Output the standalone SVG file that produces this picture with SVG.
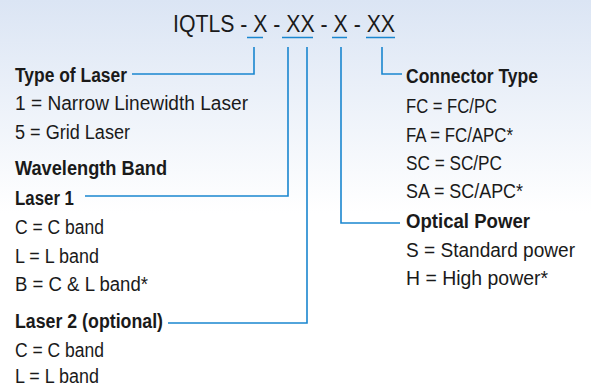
<svg xmlns="http://www.w3.org/2000/svg" width="591" height="387" viewBox="0 0 591 387">
<defs>
<linearGradient id="bg" x1="0" y1="0" x2="0" y2="387" gradientUnits="userSpaceOnUse">
<stop offset="0" stop-color="#dbe5f4"/>
<stop offset="0.55" stop-color="#ffffff"/>
<stop offset="1" stop-color="#ffffff"/>
</linearGradient>
<style>
text{font-family:"Liberation Sans Narrow","Liberation Sans",Arial,sans-serif;fill:#1a1a1a;font-size:19.5px}
.b{font-weight:bold}
.t{font-size:24px}
.c{fill:none;stroke:#1a86cf;stroke-width:1.6}
</style>
</defs>
<rect width="591" height="387" fill="url(#bg)"/>
<g id="title">
<text class="t" x="173" y="32" textLength="222" lengthAdjust="spacingAndGlyphs">IQTLS - X - XX - X - XX</text>
<path class="c" d="M247,37.5H263M282,37.5H313M332,37.5H347M366,37.5H395"/>
</g>
<g id="connectors">
<path class="c" d="M254,47V74H132"/>
<path class="c" d="M288,47V196H85"/>
<path class="c" d="M307,47V323H168"/>
<path class="c" d="M341,47V223H400"/>
<path class="c" d="M382,47V74H402"/>
</g>
<g id="type-of-laser">
<text class="b" x="15" y="82" textLength="112" lengthAdjust="spacingAndGlyphs">Type of Laser</text>
<text x="15" y="110" textLength="233" lengthAdjust="spacingAndGlyphs">1 = Narrow Linewidth Laser</text>
<text x="15" y="139" textLength="115" lengthAdjust="spacingAndGlyphs">5 = Grid Laser</text>
</g>
<g id="wavelength-band">
<text class="b" x="15" y="175" textLength="152" lengthAdjust="spacingAndGlyphs">Wavelength Band</text>
</g>
<g id="laser1">
<text class="b" x="15" y="205" textLength="59" lengthAdjust="spacingAndGlyphs">Laser 1</text>
<text x="15" y="234" textLength="89" lengthAdjust="spacingAndGlyphs">C = C band</text>
<text x="15" y="263" textLength="84" lengthAdjust="spacingAndGlyphs">L = L band</text>
<text x="15" y="291" textLength="133" lengthAdjust="spacingAndGlyphs">B = C &amp; L band*</text>
</g>
<g id="laser2">
<text class="b" x="15" y="328" textLength="148" lengthAdjust="spacingAndGlyphs">Laser 2 (optional)</text>
<text x="15" y="357" textLength="89" lengthAdjust="spacingAndGlyphs">C = C band</text>
<text x="15" y="383" textLength="84" lengthAdjust="spacingAndGlyphs">L = L band</text>
</g>
<g id="connector-type">
<text class="b" x="406" y="83" textLength="132" lengthAdjust="spacingAndGlyphs">Connector Type</text>
<text x="406" y="113" textLength="91" lengthAdjust="spacingAndGlyphs">FC = FC/PC</text>
<text x="406" y="142" textLength="107" lengthAdjust="spacingAndGlyphs">FA = FC/APC*</text>
<text x="406" y="170" textLength="96" lengthAdjust="spacingAndGlyphs">SC = SC/PC</text>
<text x="406" y="198" textLength="117" lengthAdjust="spacingAndGlyphs">SA = SC/APC*</text>
</g>
<g id="optical-power">
<text class="b" x="406" y="228" textLength="124" lengthAdjust="spacingAndGlyphs">Optical Power</text>
<text x="406" y="257" textLength="169" lengthAdjust="spacingAndGlyphs">S = Standard power</text>
<text x="406" y="285" textLength="142" lengthAdjust="spacingAndGlyphs">H = High power*</text>
</g>
</svg>
